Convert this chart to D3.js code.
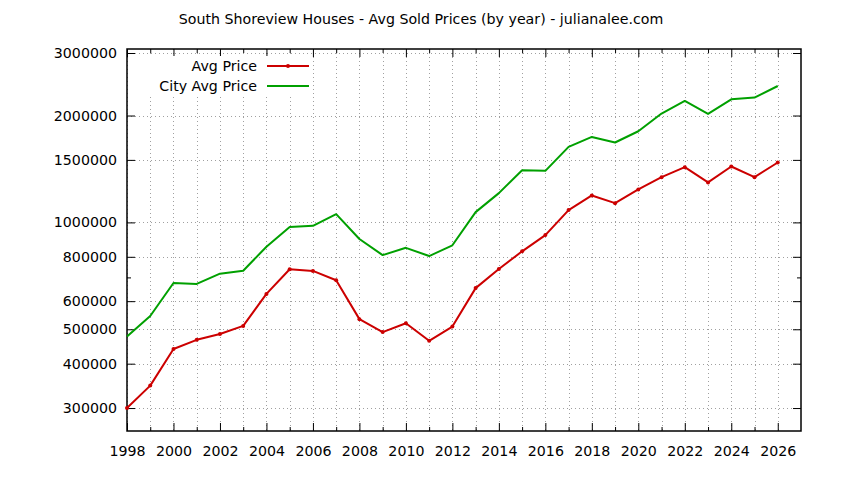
<!DOCTYPE html>
<html>
<head>
<meta charset="utf-8">
<script src="https://cdn.jsdelivr.net/npm/d3@7"></script>
<style>
  body { margin: 0; background: #fff; }
  text { font-family: "DejaVu Sans", sans-serif; fill: #000; }
</style>
</head>
<body>
<div id="chart"></div>
<script>
// Data
const years = [1998, 1999, 2000, 2001, 2002, 2003, 2004, 2005, 2006, 2007,
  2008, 2009, 2010, 2011, 2012, 2013, 2014, 2015, 2016, 2017,
  2018, 2019, 2020, 2021, 2022, 2023, 2024, 2025, 2026];
const avgPrice = [300000, 347000, 440000, 467000, 485000, 511000, 629000, 738000, 730000, 687000,
  534000, 491000, 520000, 464000, 509000, 653000, 739000, 829000, 921000, 1083000,
  1191000, 1133000, 1238000, 1341000, 1431000, 1296000, 1437000, 1341000, 1475000];
const cityAvgPrice = [477000, 545000, 675000, 671000, 717000, 731000, 854000, 970000, 978000, 1055000,
  898000, 809000, 848000, 804000, 862000, 1069000, 1209000, 1403000, 1397000, 1632000,
  1741000, 1679000, 1806000, 2026000, 2198000, 2021000, 2222000, 2247000, 2422000];
const yTicks = [300000, 400000, 500000, 600000, 800000, 1000000, 1500000, 2000000, 3000000];
const yMinorTicks = [700000];
const xTicks = [1998, 2000, 2002, 2004, 2006, 2008, 2010, 2012, 2014, 2016, 2018, 2020, 2022, 2024, 2026];
const xMinorTicks = [1999, 2001, 2003, 2005, 2007, 2009, 2011, 2013, 2015, 2017, 2019, 2021, 2023, 2025];
const seriesNames = ['Avg Price', 'City Avg Price'];
const seriesColors = ['#cc0000', '#00a000'];
const title = 'South Shoreview Houses - Avg Sold Prices (by year) - julianalee.com';

const fontSize = '14.2px';

// Dimensions
const margin = { top: 49, right: 43, bottom: 49, left: 127 };
const svgWidth = 844,
  svgHeight = 480;
const chartWidth = svgWidth - margin.left - margin.right;
const chartHeight = svgHeight - margin.top - margin.bottom;

let svg = d3
  .select('#chart')
  .append('svg')
  .attr('width', svgWidth)
  .attr('height', svgHeight);

let chart = svg
  .append('g')
  .attr('transform', `translate(${margin.left}, ${margin.top})`);

// Scales
let xScale = d3.scaleLinear()
  .domain([1998, 2027])
  .range([0, chartWidth]);

let yScale = d3.scaleLog()
  .domain([258500, 3079000])
  .range([chartHeight, 0]);

// Grid (dotted)
const grid = chart.append('g')
  .attr('stroke', '#a0a0a0')
  .attr('stroke-width', 1)
  .attr('stroke-dasharray', '1,3');

grid.selectAll('.hgrid')
  .data(yTicks)
  .enter()
  .append('line')
  .attr('x1', 0)
  .attr('x2', chartWidth)
  .attr('y1', d => Math.round(yScale(d)) + 0.5)
  .attr('y2', d => Math.round(yScale(d)) + 0.5);

grid.selectAll('.vgrid')
  .data(xTicks.concat(xMinorTicks))
  .enter()
  .append('line')
  .attr('x1', d => Math.round(xScale(d)) + 0.5)
  .attr('x2', d => Math.round(xScale(d)) + 0.5)
  .attr('y1', 0)
  .attr('y2', chartHeight);

// Axes with inward ticks
function styleAxis(g) {
  g.select('.domain').remove();
  g.selectAll('line').attr('stroke', '#000');
  g.selectAll('text').style('font-size', fontSize).attr('fill', '#000');
}

chart.append('g')
  .call(d3.axisLeft(yScale).tickValues(yTicks).tickSize(-8).tickPadding(10).tickFormat(d3.format('d')))
  .call(styleAxis);
chart.append('g')
  .call(d3.axisLeft(yScale).tickValues(yMinorTicks).tickSize(-4).tickFormat(''))
  .call(styleAxis);
chart.append('g')
  .attr('transform', `translate(${chartWidth}, 0)`)
  .call(d3.axisRight(yScale).tickValues(yTicks).tickSize(-8).tickFormat(''))
  .call(styleAxis);
chart.append('g')
  .attr('transform', `translate(${chartWidth}, 0)`)
  .call(d3.axisRight(yScale).tickValues(yMinorTicks).tickSize(-4).tickFormat(''))
  .call(styleAxis);

chart.append('g')
  .attr('transform', `translate(0, ${chartHeight})`)
  .call(d3.axisBottom(xScale).tickValues(xTicks).tickSize(-8).tickPadding(15).tickFormat(d3.format('d')))
  .call(styleAxis);
chart.append('g')
  .attr('transform', `translate(0, ${chartHeight})`)
  .call(d3.axisBottom(xScale).tickValues(xMinorTicks).tickSize(-4).tickFormat(''))
  .call(styleAxis);
chart.append('g')
  .call(d3.axisTop(xScale).tickValues(xTicks).tickSize(-8).tickFormat(''))
  .call(styleAxis);
chart.append('g')
  .call(d3.axisTop(xScale).tickValues(xMinorTicks).tickSize(-4).tickFormat(''))
  .call(styleAxis);

// Border
chart.append('rect')
  .attr('x', 0)
  .attr('y', 0)
  .attr('width', chartWidth)
  .attr('height', chartHeight)
  .attr('fill', 'none')
  .attr('stroke', '#000')
  .attr('stroke-width', 1.5);

// Lines
const series = [avgPrice, cityAvgPrice];
let line = d3.line()
  .x((d, i) => xScale(years[i]))
  .y(d => yScale(d));

series.forEach((values, s) => {
  chart.append('path')
    .datum(values)
    .attr('fill', 'none')
    .attr('stroke', seriesColors[s])
    .attr('stroke-width', 2)
    .attr('stroke-linejoin', 'round')
    .attr('d', line);
});

// Points on Avg Price
chart.selectAll('.pt')
  .data(avgPrice)
  .enter()
  .append('circle')
  .attr('cx', (d, i) => xScale(years[i]))
  .attr('cy', d => yScale(d))
  .attr('r', 2)
  .attr('fill', seriesColors[0]);

// Legend (opaque box)
const legend = chart.append('g');
legend.append('rect')
  .attr('x', 1)
  .attr('y', 7)
  .attr('width', 184)
  .attr('height', 40)
  .attr('fill', '#fff');

seriesNames.forEach((name, i) => {
  const row = legend.append('g').attr('transform', `translate(0, ${17 + i * 20})`);
  row.append('text')
    .attr('x', 130)
    .attr('y', 5)
    .attr('text-anchor', 'end')
    .style('font-size', fontSize)
    .text(name);
  row.append('line')
    .attr('x1', 140)
    .attr('x2', 182)
    .attr('stroke', seriesColors[i])
    .attr('stroke-width', 2);
  if (i === 0) {
    row.append('circle')
      .attr('cx', 161)
      .attr('r', 2)
      .attr('fill', seriesColors[i]);
  }
});

// Title
svg.append('text')
  .attr('x', 421)
  .attr('y', 24)
  .attr('text-anchor', 'middle')
  .style('font-size', fontSize)
  .text(title);
</script>
</body>
</html>
